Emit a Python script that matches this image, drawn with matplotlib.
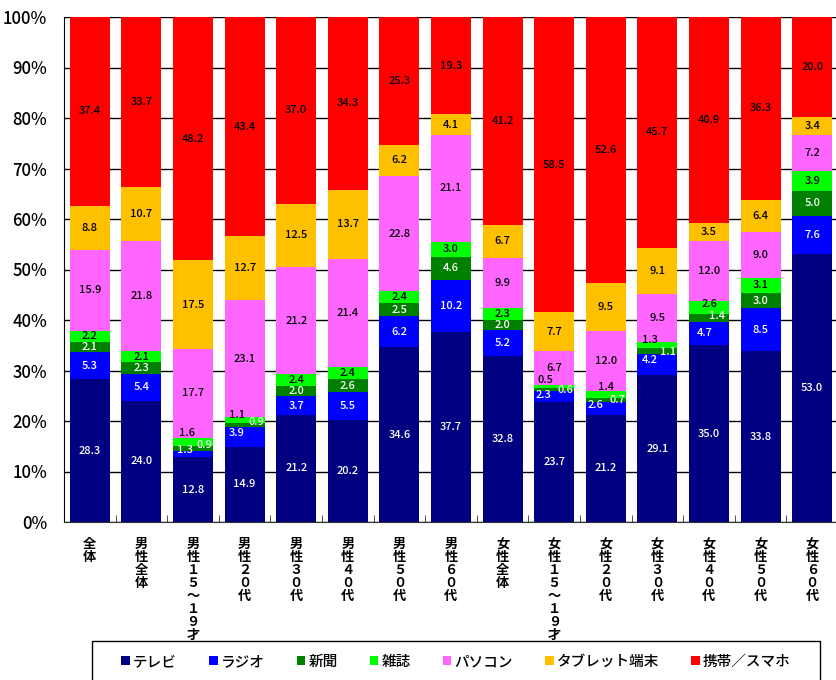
import numpy as np
import matplotlib.pyplot as plt
from matplotlib.patches import Rectangle

plt.rcParams['font.family'] = ['Noto Sans CJK JP', 'DejaVu Sans']

# categories (x axis), drawn stacked vertically
categories = ['全体', '男性全体', '男性１５～１９才', '男性２０代', '男性３０代', '男性４０代',
              '男性５０代', '男性６０代', '女性全体', '女性１５～１９才', '女性２０代',
              '女性３０代', '女性４０代', '女性５０代', '女性６０代']

series = ['テレビ', 'ラジオ', '新聞', '雑誌', 'パソコン', 'タブレット端末', '携帯／スマホ']

tv       = [28.3, 24.0, 12.8, 14.9, 21.2, 20.2, 34.6, 37.7, 32.8, 23.7, 21.2, 29.1, 35.0, 33.8, 53.0]
radio    = [5.3, 5.4, 1.3, 3.9, 3.7, 5.5, 6.2, 10.2, 5.2, 2.3, 2.6, 4.2, 4.7, 8.5, 7.6]
paper    = [2.1, 2.3, 0.9, 0.9, 2.0, 2.6, 2.5, 4.6, 2.0, 0.6, 0.7, 1.1, 1.4, 3.0, 5.0]
magazine = [2.2, 2.1, 1.6, 1.1, 2.4, 2.4, 2.4, 3.0, 2.3, 0.5, 1.4, 1.3, 2.6, 3.1, 3.9]
pc       = [15.9, 21.8, 17.7, 23.1, 21.2, 21.4, 22.8, 21.1, 9.9, 6.7, 12.0, 9.5, 12.0, 9.0, 7.2]
tablet   = [8.8, 10.7, 17.5, 12.7, 12.5, 13.7, 6.2, 4.1, 6.7, 7.7, 9.5, 9.1, 3.5, 6.4, 3.4]
mobile   = [37.4, 33.7, 48.2, 43.4, 37.0, 34.3, 25.3, 19.3, 41.2, 58.5, 52.6, 45.7, 40.9, 36.3, 20.0]

values = [tv, radio, paper, magazine, pc, tablet, mobile]
colors = ['#000080', '#0000FF', '#008000', '#00FF00', '#FF66FF', '#FFC000', '#FF0000']
text_colors = ['white', 'white', 'white', 'black', 'black', 'black', 'black']

# label nudges for thin segments: (category, series) -> (dx, y position in %)
nudges = {
    (2, 1): (-0.16, 14.3), (2, 2): (0.23, 15.2), (2, 3): (-0.12, 17.6),
    (3, 1): (-0.16, 17.6), (3, 2): (0.23, 19.8), (3, 3): (-0.14, 21.2),
    (9, 1): (-0.20, 25.1), (9, 2): (0.21, 26.1), (9, 3): (-0.17, 28.1),
    (10, 1): (-0.19, 23.2), (10, 2): (0.23, 24.2), (10, 3): (0.0, 26.7),
    (11, 1): (-0.14, 32.1), (11, 2): (0.20, 33.7), (11, 3): (-0.14, 36.0),
    (12, 1): (-0.08, 37.4), (12, 2): (0.16, 40.8), (12, 3): (0.0, 43.2),
}

fig = plt.figure(figsize=(8.36, 6.8), dpi=100)
ax = fig.add_axes([64 / 836, 1 - 522 / 680, 774 / 836, 505 / 680])

x = np.arange(len(categories))
bottom = np.zeros(len(categories))
bars = []
for i, (name, vals) in enumerate(zip(series, values)):
    vals = np.array(vals)
    b = ax.bar(x, vals, 0.775, bottom=bottom, color=colors[i], label=name, zorder=2)
    bars.append(b)
    for j, v in enumerate(vals):
        dx, yy = nudges.get((j, i), (0.0, bottom[j] + v / 2))
        ax.text(x[j] + dx, yy, f'{v:.1f}', ha='center', va='center',
                fontsize=8, fontweight='medium', color=text_colors[i], zorder=3)
    bottom += vals

ax.set_xlim(-0.5, len(categories) - 0.5)
ax.set_ylim(0, 100)
ax.set_yticks(np.arange(0, 101, 10))
ax.set_yticklabels([f'{t}%' for t in range(0, 101, 10)], fontsize=12, fontweight='medium')
ax.yaxis.grid(True, color='black', linewidth=1, zorder=0)
ax.set_axisbelow(True)
ax.tick_params(axis='y', length=0, pad=12)

ax.set_xticks(x)
ax.set_xticklabels(['\n'.join(c) for c in categories], fontsize=9.5, fontweight='bold',
                   linespacing=0.9, va='top')
ax.tick_params(axis='x', length=0, pad=11)
ax.set_xticks(np.arange(0.5, len(categories) - 0.5, 1), minor=True)
ax.tick_params(axis='x', which='minor', length=5, direction='in', color='#333333')

for s in ['top', 'right']:
    ax.spines[s].set_visible(False)
ax.spines['left'].set_color('black')
ax.spines['bottom'].set_color('#333333')

# legend box
fig.patches.append(Rectangle((92 / 836, -0.05), 728 / 836, 0.05 + 1 - 641 / 680,
                             transform=fig.transFigure, fill=False, edgecolor='black',
                             linewidth=1, clip_on=False))
fig.legend(handles=bars, labels=series, loc='center', ncol=7, frameon=False,
           bbox_to_anchor=(456 / 836, 1 - 662 / 680),
           prop={'weight': 'medium', 'size': 10.5},
           handlelength=0.6, handleheight=0.6, handletextpad=0.2, columnspacing=2.2)

fig.savefig('out.png', dpi=100)
